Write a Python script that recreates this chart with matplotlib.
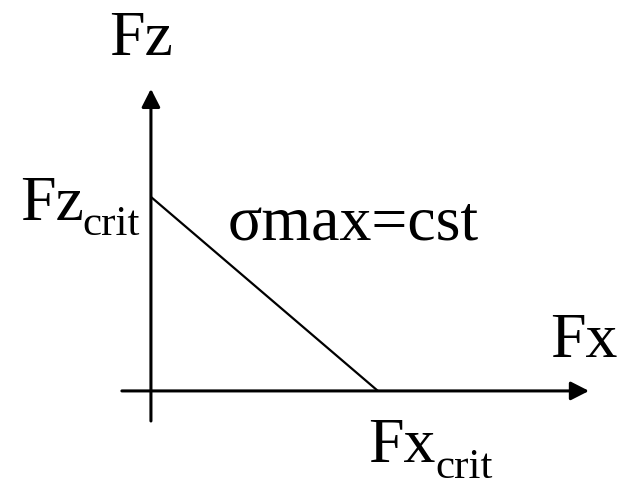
import matplotlib
matplotlib.use("Agg")
import matplotlib.pyplot as plt
from matplotlib.patches import FancyArrowPatch

# diagramme d'interaction : sigma max = cst
fx_crit = 1.0
fz_crit = 1.0
line_x = [0.0, fx_crit]
line_z = [fz_crit, 0.0]
label_x = "Fx"
label_z = "Fz"
label_curve = "\u03c3max=cst"
sub = "crit"

plt.rcParams["font.family"] = ["Liberation Serif", "DejaVu Serif"]

fig = plt.figure(figsize=(6.26, 4.92), dpi=100)
ax = fig.add_axes([0, 0, 1, 1])
ax.set_xlim(-0.665, 2.093)
ax.set_ylim(-0.521, 2.015)
ax.axis("off")

fs = 46
fs_sub = 31
lw_ax = 2.2

# axes avec fleches
for p0, p1 in [((-0.128, 0), (1.93, 0)), ((0, -0.155), (0, 1.557))]:
    ar = FancyArrowPatch(p0, p1, arrowstyle="-|>,head_length=11,head_width=5.6",
                         mutation_scale=1, shrinkA=0, shrinkB=0,
                         color="black", lw=lw_ax)
    ax.add_patch(ar)

ax.plot(line_x, line_z, color="black", lw=1.6, solid_capstyle="butt")

ax.text(-0.042, 1.732, label_z, fontsize=fs, ha="center", va="baseline")
ax.text(1.758, 0.175, label_x, fontsize=fs, ha="left", va="baseline")

# Fz_crit
ax.text(-0.577, 0.881, label_z, fontsize=fs, ha="left", va="baseline")
ax.text(-0.300, 0.804, sub, fontsize=fs_sub, ha="left", va="baseline")
# Fx_crit
ax.text(0.956, -0.366, label_x, fontsize=fs, ha="left", va="baseline")
ax.text(1.251, -0.448, sub, fontsize=fs_sub, ha="left", va="baseline")

ax.text(0.339, 0.778, label_curve, fontsize=fs, ha="left", va="baseline")

fig.savefig("out.png", dpi=100)
